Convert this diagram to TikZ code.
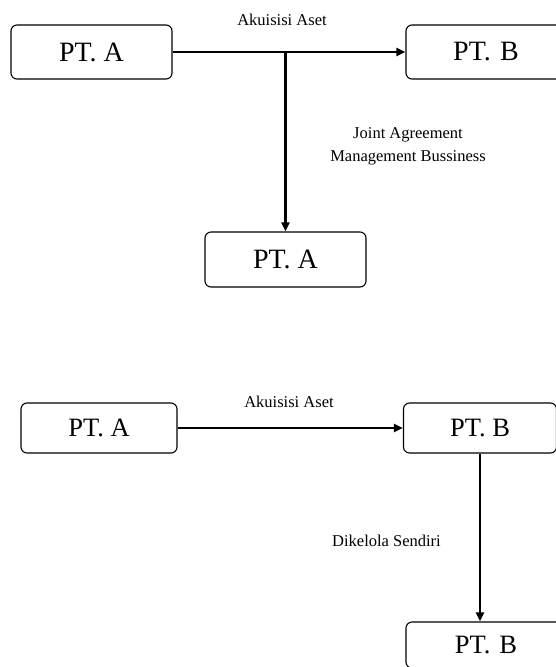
\documentclass[tikz,border=0pt]{standalone}
\usepackage{fontspec}
\setmainfont{Liberation Serif}
\usetikzlibrary{arrows.meta}
\begin{document}
\begin{tikzpicture}[x=1pt,y=-1pt,
  box/.style={draw=black,line width=1.1pt,rounded corners=6pt,rectangle,inner sep=0pt},
  bigtxt/.style={font=\fontsize{28}{30}\selectfont},
  medtxt/.style={font=\fontsize{26.5}{28}\selectfont},
  lbl/.style={font=\fontsize{16.5}{23}\selectfont,align=center,inner sep=0pt},
  conn/.style={line width=2.6pt,-{Triangle[length=9pt,width=8pt]}}]
\useasboundingbox (0,0) rectangle (556,667);
\clip (0,0) rectangle (556,667);
% top diagram
\node[box,bigtxt,minimum width=161pt,minimum height=54pt] (a1) at (91.5,52) {PT. A};
\node[box,bigtxt,minimum width=180pt,minimum height=54pt,text width=160pt,align=center] (b1) at (496,52) {\hspace*{-20pt}PT. B};
\node[box,bigtxt,minimum width=161pt,minimum height=55pt] (a2) at (285.5,259.5) {PT. A};
\coordinate (j) at (a2.north |- a1.east);
\draw[conn] (a1.east) -- (b1.west);
\draw[conn] (j) -- (a2.north);
\node[lbl] (l1) at (282,20) {Akuisisi Aset};
\node[lbl] (l2) at (408,146) {Joint Agreement\\Management Bussiness};
% bottom diagram
\node[box,medtxt,minimum width=156pt,minimum height=50pt] (a3) at (99,428) {PT. A};
\node[box,medtxt,minimum width=153pt,minimum height=50pt] (b2) at (480,428) {PT. B};
\node[box,medtxt,minimum width=180pt,minimum height=46pt,text width=160pt,align=center] (b3) at (496,645) {\hspace*{-20pt}PT. B};
\draw[conn] (a3.east) -- (b2.west);
\draw[conn] (b2.south) -- (b2.south |- b3.north);
\node[lbl] (l3) at (289,402) {Akuisisi Aset};
\node[lbl] (l4) at (386.5,541) {Dikelola Sendiri};
\end{tikzpicture}
\end{document}
